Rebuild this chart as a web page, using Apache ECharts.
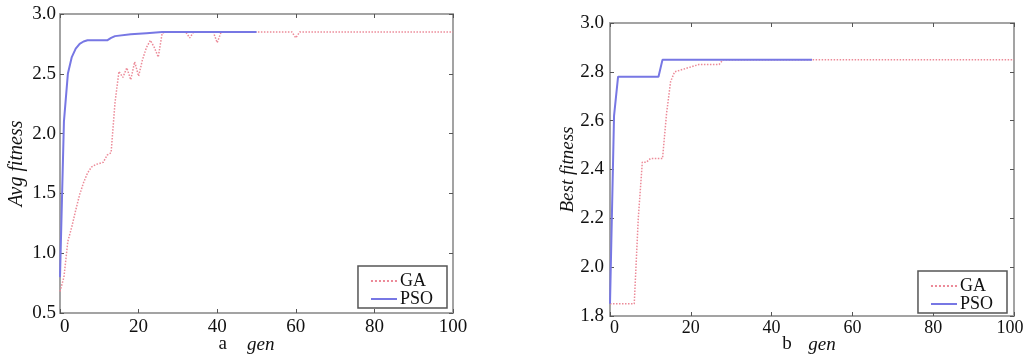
<!DOCTYPE html>
<html>
<head>
<meta charset="utf-8">
<script src="https://cdn.jsdelivr.net/npm/echarts@6/dist/echarts.min.js"></script>
<style>
  html, body { margin: 0; padding: 0; background: #fff; }
  #chart { width: 1025px; height: 358px; }
</style>
</head>
<body>
<div id="chart"></div>
<script>
// [gen, value]
const gaAvg = [
  [0, 0.68], [1, 0.8], [2, 1.1], [3, 1.22], [4, 1.36], [5, 1.49], [6, 1.59],
  [7, 1.67], [8, 1.72], [9, 1.74], [10, 1.75], [11, 1.76], [12, 1.82], [13, 1.84],
  [14, 2.26], [15, 2.52], [16, 2.47], [17, 2.55], [18, 2.45], [19, 2.6], [20, 2.48],
  [21, 2.62], [22, 2.72], [23, 2.78], [24, 2.72], [25, 2.64], [26, 2.84], [27, 2.85],
  [32, 2.85], [33, 2.8], [34, 2.85], [39, 2.85], [40, 2.76], [41, 2.85],
  [59, 2.85], [60, 2.8], [61, 2.85], [100, 2.85]
]
const psoAvg = [
  [0, 0.8], [1, 2.1], [2, 2.5], [3, 2.64], [4, 2.71], [5, 2.75], [6, 2.77],
  [7, 2.78], [12, 2.78], [13, 2.8], [14, 2.815], [18, 2.83], [22, 2.84],
  [26, 2.85], [50, 2.85]
]
const gaBest = [
  [0, 1.85], [6, 1.85], [7, 2.2], [8, 2.43], [9, 2.43], [10, 2.445], [13, 2.445],
  [14, 2.63], [15, 2.76], [16, 2.8], [18, 2.81], [20, 2.82], [22, 2.83],
  [27, 2.83], [28, 2.85], [100, 2.85]
]
const psoBest = [
  [0, 1.85], [1, 2.62], [2, 2.78], [12, 2.78], [13, 2.85], [50, 2.85]
]
const genTicks = { min: 0, max: 100, interval: 20 }
const avgTicks = { min: 0.5, max: 3.0, interval: 0.5 }
const bestTicks = { min: 1.8, max: 3.0, interval: 0.2 }

const serif = "'Liberation Serif', 'DejaVu Serif', serif"
const frame = '#a3a3a3'
const gaColor = '#ec8a98'
const psoColor = '#7777e4'

const chart = echarts.init(document.getElementById('chart'))

// bottom axis with labels and the "a  gen" caption
const mainX = (idx, t, caption, shift, lblMargin, alignMin, size, gap) => ({
  type: 'value', gridIndex: idx, ...t,
  name: caption, nameLocation: 'middle', nameGap: gap, nameMoveOverlap: false,
  nameTextStyle: {
    padding: [0, shift, 0, 0],
    rich: {
      n: { fontFamily: serif, fontSize: 19, color: '#111' },
      i: { fontFamily: serif, fontSize: 19, fontStyle: 'italic', color: '#111' }
    }
  },
  axisLine: { onZero: false, lineStyle: { color: frame, width: 2 } },
  axisTick: { inside: true, length: 4, lineStyle: { color: '#555' } },
  axisLabel: {
    fontFamily: serif, fontSize: size, color: '#111', margin: lblMargin, alignMinLabel: alignMin,
    formatter: v => (v === 100 && alignMin ? '{m|' + v + '}' : '' + v),
    rich: { m: { fontFamily: serif, fontSize: size, color: '#111', padding: [0, 8, 0, 0] } }
  },
  splitLine: { show: false }
})
const sideX = (idx, t) => ({
  type: 'value', gridIndex: idx, position: 'top', ...t,
  axisLine: { onZero: false, lineStyle: { color: frame, width: 2 } },
  axisTick: { inside: true, length: 4, lineStyle: { color: '#555' } },
  axisLabel: { show: false }, splitLine: { show: false }
})
const mainY = (idx, t, name, size, lblMargin) => ({
  type: 'value', gridIndex: idx, ...t,
  name: name, nameLocation: 'middle', nameGap: 33, nameMoveOverlap: false,
  nameTextStyle: { fontFamily: serif, fontSize: size, fontStyle: 'italic', color: '#111' },
  axisLine: { onZero: false, lineStyle: { color: frame, width: 2 } },
  axisTick: { inside: true, length: 4, lineStyle: { color: '#555' } },
  axisLabel: { fontFamily: serif, fontSize: 19, color: '#111', margin: lblMargin, formatter: v => v.toFixed(1) },
  splitLine: { show: false }
})
const sideY = (idx, t) => ({
  type: 'value', gridIndex: idx, position: 'right', ...t,
  axisLine: { onZero: false, lineStyle: { color: frame, width: 2 } },
  axisTick: { inside: true, length: 4, lineStyle: { color: '#555' } },
  axisLabel: { show: false }, splitLine: { show: false }
})

const gaSeries = (xi, yi, data) => ({
  name: 'GA', type: 'line', xAxisIndex: xi, yAxisIndex: yi, data: data,
  symbol: 'none', z: 2,
  lineStyle: { color: gaColor, width: 1.5, type: 'dotted' },
  itemStyle: { color: gaColor }
})
const psoSeries = (xi, yi, data) => ({
  name: 'PSO', type: 'line', xAxisIndex: xi, yAxisIndex: yi, data: data,
  symbol: 'none', z: 3,
  lineStyle: { color: psoColor, width: 2 },
  itemStyle: { color: psoColor }
})

const legendBox = (right, bottom) => ({
  orient: 'vertical', right: right, bottom: bottom,
  data: ['GA', 'PSO'], itemWidth: 26, itemHeight: 8, itemGap: 0,
  itemStyle: { opacity: 0 },
  padding: [6, 14, 0, 12], borderColor: '#555', borderWidth: 1.5,
  backgroundColor: '#fff',
  textStyle: { fontFamily: serif, fontSize: 18, color: '#111', padding: [0, 0, 0, -2] }
})

chart.setOption({
  animation: false,
  grid: [
    { left: 60, top: 14, width: 393, height: 299, outerBoundsMode: 'none' },
    { left: 610, top: 23, width: 404, height: 293, outerBoundsMode: 'none' }
  ],
  xAxis: [
    mainX(0, genTicks, '{n|a}      {i|gen}', 20, 5, false, 19, 22),
    sideX(0, genTicks),
    mainX(1, genTicks, '{n|b}     {i|gen}', 6, 3, true, 18, 19),
    sideX(1, genTicks)
  ],
  yAxis: [
    mainY(0, avgTicks, 'Avg fitness', 20, 4),
    sideY(0, avgTicks),
    mainY(1, bestTicks, 'Best fitness', 19, 6),
    sideY(1, bestTicks)
  ],
  legend: [legendBox(1025 - 447, 358 - 308), legendBox(1025 - 1007, 358 - 313)],
  series: [
    gaSeries(0, 0, gaAvg),
    psoSeries(0, 0, psoAvg),
    gaSeries(2, 2, gaBest),
    psoSeries(2, 2, psoBest)
  ]
})
</script>
</body>
</html>
